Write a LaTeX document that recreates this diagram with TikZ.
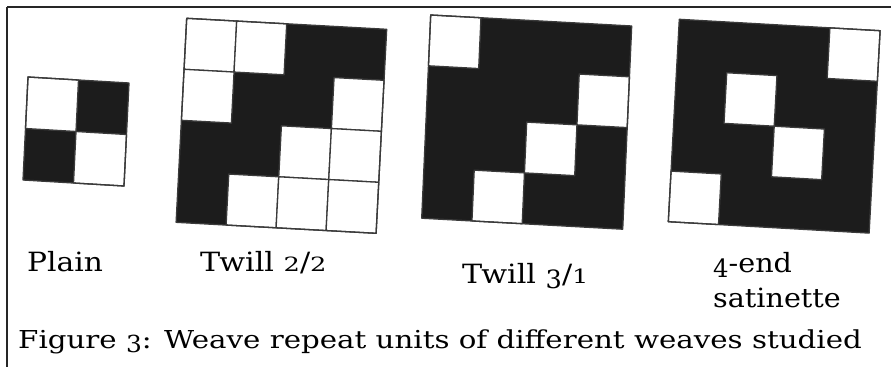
\documentclass[tikz,border=0pt]{standalone}
\usepackage{fontspec}
\setmainfont{DejaVu Serif}
\definecolor{weaveblack}{HTML}{1C1C1C}
\definecolor{gridgray}{HTML}{3A3A3A}
\tikzset{
  gridline/.style={draw=gridgray, line width=1.3pt, line join=round},
  whitecell/.style={fill=white, draw=gridgray, line width=1.3pt, line join=round},
  frameline/.style={draw=black!85, line width=1.4pt},
  lab/.style={anchor=base west, inner sep=0pt, font=\fontsize{26.5}{30}\selectfont},
  caplab/.style={anchor=base west, inner sep=0pt, font=\fontsize{24.7}{30}\selectfont},
}
% old-style-like digits
\newcommand\osx[1]{\scalebox{0.85}[0.74]{#1}}
\newcommand\osd[1]{\raisebox{-0.2em}{\scalebox{0.85}[0.95]{#1}}}
\newcommand\wide[2]{\scalebox{#1}[1]{#2}}
% #1 shift, #2 x-vector, #3 y-vector, #4 size, #5 white cells (col/row)
\newcommand\weaveunit[5]{%
  \begin{scope}[shift={#1}, x={#2}, y={#3}]
    \fill[weaveblack] (0,0) -- (#4,0) -- (#4,#4) -- (0,#4) -- cycle;
    \foreach \c/\r in {#5}
      \draw[whitecell] (\c-1,\r-1) -- (\c,\r-1) -- (\c,\r) -- (\c-1,\r) -- cycle;
    \draw[gridline] (0,0) -- (#4,0) -- (#4,#4) -- (0,#4) -- cycle;
  \end{scope}}
\begin{document}
\begin{tikzpicture}[x=1pt, y=-1pt]
  \useasboundingbox[fill=white] (0,0) rectangle (891,367);
  % frame
  \draw[frameline] (7,7) -- (891,7);
  \draw[frameline] (7,7) -- (7,367);
  % plain
  \weaveunit{(28,77)}{(50.5pt,-3pt)}{(-2.5pt,-51.5pt)}{2}{1/1,2/2}
  % twill 2/2
  \weaveunit{(186.7,18.3)}{(50pt,-2.75pt)}{(-2.65pt,-51pt)}{4}{1/1,2/1,1/2,4/2,3/3,4/3,2/4,3/4,4/4}
  % twill 3/1
  \weaveunit{(430.7,15)}{(50.25pt,-2.75pt)}{(-2.25pt,-50.8pt)}{4}{1/1,4/2,3/3,2/4}
  % 4-end satinette
  \weaveunit{(679.3,19.3)}{(50.2pt,-2.85pt)}{(-2.75pt,-50.6pt)}{4}{4/1,2/2,3/3,1/4}
  % labels
  \node[lab] (plain) at (27,271) {\wide{1.12}{Plain}};
  \node[lab] (twa) at (200,271) {\wide{1.14}{Twill \osx{2}/\osx{2}}};
  \node[lab] (twb) at (462,283) {\wide{1.14}{Twill \osd{3}/\osx{1}}};
  \node[lab] (sata) at (713,272) {\wide{1.08}{\osd{4}-end}};
  \node[lab] (satb) at (713,307) {\wide{1.08}{satinette}};
  \node[caplab] (cap) at (18,348) {\wide{1.185}{Figure \osd{3}: Weave repeat units of different weaves studied}};
\end{tikzpicture}
\end{document}
